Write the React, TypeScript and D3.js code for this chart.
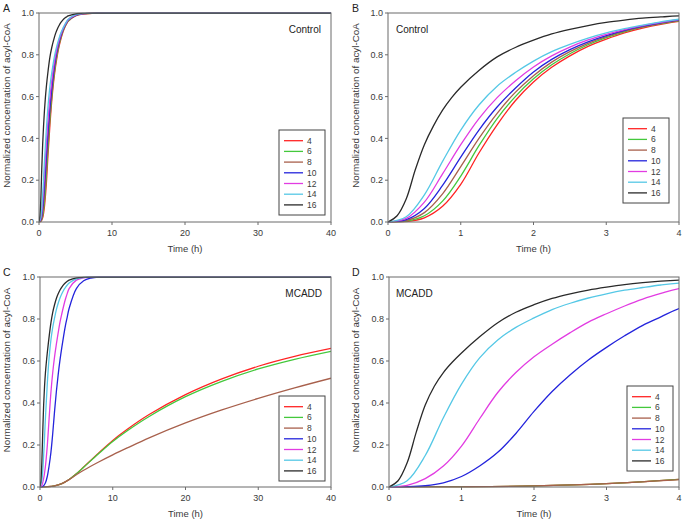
import React from "react";
import * as d3 from "d3";

// ---- data ----
const chainLengths = ["4", "6", "8", "10", "12", "14", "16"];
const seriesColors = ["#ff2424", "#44c83c", "#a8604c", "#2424dc", "#e23ce2", "#55c8e6", "#2a2a2a"];

// Control simulation, time in hours
const ctrlT = [0, 0.25, 0.5, 0.75, 1, 1.25, 1.5, 1.75, 2, 2.25, 2.5, 2.75, 3, 3.25, 3.5, 3.75, 4, 5, 6, 8, 10, 40];
const ctrl4 = [0, 0.002, 0.02, 0.075, 0.18, 0.33, 0.465, 0.58, 0.67, 0.74, 0.795, 0.84, 0.875, 0.905, 0.928, 0.946, 0.96, 0.986, 0.995, 1, 1, 1];
const ctrl6 = [0, 0.004, 0.03, 0.1, 0.22, 0.365, 0.495, 0.6, 0.685, 0.752, 0.805, 0.848, 0.882, 0.91, 0.932, 0.949, 0.962, 0.987, 0.996, 1, 1, 1];
const ctrl8 = [0, 0.007, 0.045, 0.135, 0.265, 0.4, 0.52, 0.62, 0.7, 0.765, 0.815, 0.855, 0.887, 0.913, 0.934, 0.951, 0.964, 0.988, 0.996, 1, 1, 1];
const ctrl10 = [0, 0.011, 0.065, 0.175, 0.31, 0.44, 0.55, 0.64, 0.718, 0.778, 0.825, 0.862, 0.892, 0.917, 0.937, 0.953, 0.966, 0.989, 0.997, 1, 1, 1];
const ctrl12 = [0, 0.017, 0.095, 0.23, 0.37, 0.495, 0.595, 0.675, 0.742, 0.795, 0.837, 0.871, 0.898, 0.921, 0.94, 0.955, 0.968, 0.99, 0.997, 1, 1, 1];
const ctrl14 = [0, 0.025, 0.13, 0.29, 0.44, 0.56, 0.65, 0.715, 0.77, 0.815, 0.85, 0.88, 0.905, 0.925, 0.942, 0.958, 0.97, 0.992, 0.998, 1, 1, 1];
const ctrl16T = [0, 0.125, 0.25, 0.375, 0.5, 0.625, 0.75, 0.875, 1, 1.25, 1.5, 1.75, 2, 2.25, 2.5, 2.75, 3, 3.25, 3.5, 3.75, 4, 5, 6, 8, 10, 40];
const ctrl16 = [0, 0.03, 0.11, 0.25, 0.37, 0.46, 0.535, 0.595, 0.645, 0.725, 0.79, 0.835, 0.87, 0.9, 0.922, 0.94, 0.955, 0.966, 0.975, 0.981, 0.986, 0.996, 0.999, 1, 1, 1];

// MCADD simulation, fast (long-chain) species
const mcFastT = [0, 0.25, 0.5, 0.75, 1, 1.25, 1.5, 1.75, 2, 2.25, 2.5, 2.75, 3, 3.25, 3.5, 3.75, 4, 5, 6, 7, 8, 10, 40];
const mc10 = [0, 0.001, 0.006, 0.02, 0.05, 0.1, 0.165, 0.255, 0.36, 0.455, 0.535, 0.605, 0.665, 0.72, 0.77, 0.81, 0.85, 0.945, 0.982, 0.995, 1, 1, 1];
const mc12 = [0, 0.008, 0.04, 0.1, 0.195, 0.325, 0.45, 0.545, 0.62, 0.68, 0.735, 0.785, 0.825, 0.862, 0.895, 0.922, 0.945, 0.985, 0.996, 1, 1, 1, 1];
const mc14 = [0, 0.03, 0.15, 0.33, 0.49, 0.615, 0.7, 0.76, 0.805, 0.845, 0.875, 0.9, 0.92, 0.937, 0.95, 0.962, 0.971, 0.991, 0.998, 1, 1, 1, 1];
const mc16T = [0, 0.125, 0.25, 0.375, 0.5, 0.625, 0.75, 0.875, 1, 1.25, 1.5, 1.75, 2, 2.25, 2.5, 2.75, 3, 3.25, 3.5, 3.75, 4, 5, 6, 8, 10, 40];
const mc16 = [0, 0.03, 0.115, 0.26, 0.39, 0.48, 0.545, 0.595, 0.638, 0.715, 0.782, 0.832, 0.868, 0.898, 0.92, 0.938, 0.952, 0.964, 0.973, 0.98, 0.985, 0.996, 0.999, 1, 1, 1];

// MCADD simulation, slow (short/medium-chain) species
const mcSlowT = [0, 1, 2, 3, 4, 5, 6, 8, 10, 12, 15, 20, 25, 30, 35, 40];
const mc4 = [0, 0.001, 0.005, 0.016, 0.036, 0.063, 0.095, 0.16, 0.222, 0.275, 0.345, 0.44, 0.515, 0.575, 0.622, 0.66];
const mc6 = [0, 0.001, 0.005, 0.016, 0.036, 0.063, 0.094, 0.157, 0.217, 0.268, 0.336, 0.43, 0.503, 0.562, 0.608, 0.646];
const mc8 = [0, 0.001, 0.005, 0.016, 0.035, 0.058, 0.08, 0.118, 0.153, 0.186, 0.234, 0.305, 0.367, 0.422, 0.472, 0.518];

const yTicks = [0, 0.2, 0.4, 0.6, 0.8, 1.0];
const xTicksLong = [0, 10, 20, 30, 40];
const xTicksShort = [0, 1, 2, 3, 4];

type Series = { t: number[]; v: number[] };

const controlSeries: Series[] = [
  { t: ctrlT, v: ctrl4 },
  { t: ctrlT, v: ctrl6 },
  { t: ctrlT, v: ctrl8 },
  { t: ctrlT, v: ctrl10 },
  { t: ctrlT, v: ctrl12 },
  { t: ctrlT, v: ctrl14 },
  { t: ctrl16T, v: ctrl16 },
];
const mcaddSeries: Series[] = [
  { t: mcSlowT, v: mc4 },
  { t: mcSlowT, v: mc6 },
  { t: mcSlowT, v: mc8 },
  { t: mcFastT, v: mc10 },
  { t: mcFastT, v: mc12 },
  { t: mcFastT, v: mc14 },
  { t: mc16T, v: mc16 },
];

const FONT = "Liberation Sans, Arial, sans-serif";
const AXIS = "#6b6b6b";
const TXT = "#3a3a3a";

type PanelProps = {
  id: string;
  letter: string;
  letterX: number;
  letterY: number;
  left: number;
  right: number;
  top: number;
  bottom: number;
  xMax: number;
  xTicks: number[];
  series: Series[];
  tag: string;
  tagX: number;
  tagAnchor: "start" | "end";
  legendX: number;
  legendY: number;
  yLabelX: number;
};

function Panel(p: PanelProps) {
  const x = d3.scaleLinear().domain([0, p.xMax]).range([p.left, p.right]);
  const y = d3.scaleLinear().domain([0, 1]).range([p.bottom, p.top]);
  const line = d3
    .line<[number, number]>()
    .x((d) => x(d[0]))
    .y((d) => y(d[1]))
    .curve(d3.curveCatmullRom.alpha(0.5));
  const clipId = "clip-" + p.id;
  const lw = 46;
  const lh = 85;
  return (
    <g>
      <defs>
        <clipPath id={clipId}>
          <rect x={p.left} y={p.top - 0.5} width={p.right - p.left} height={p.bottom - p.top + 1} />
        </clipPath>
      </defs>
      <text x={p.letterX} y={p.letterY} fontSize={10.5} fill="#222" fontFamily={FONT}>
        {p.letter}
      </text>
      <g clipPath={`url(#${clipId})`}>
        {p.series.map((s, i) => (
          <path
            key={i}
            d={line(s.t.map((t, k) => [t, s.v[k]] as [number, number])) || ""}
            fill="none"
            stroke={seriesColors[i]}
            strokeWidth={1.3}
          />
        ))}
      </g>
      <rect
        x={p.left}
        y={p.top}
        width={p.right - p.left}
        height={p.bottom - p.top}
        fill="none"
        stroke={AXIS}
        strokeWidth={1}
      />
      {yTicks.map((t) => (
        <g key={"y" + t}>
          <line x1={p.left - 3} x2={p.left} y1={y(t)} y2={y(t)} stroke={AXIS} />
          <text
            x={p.left - 5}
            y={y(t) + 3.2}
            fontSize={9}
            textAnchor="end"
            fill={TXT}
            fontFamily={FONT}
          >
            {t.toFixed(1)}
          </text>
        </g>
      ))}
      {p.xTicks.map((t) => (
        <g key={"x" + t}>
          <line x1={x(t)} x2={x(t)} y1={p.bottom} y2={p.bottom + 3} stroke={AXIS} />
          <text x={x(t)} y={p.bottom + 14} fontSize={9} textAnchor="middle" fill={TXT} fontFamily={FONT}>
            {t}
          </text>
        </g>
      ))}
      <text
        x={(p.left + p.right) / 2}
        y={p.bottom + 30}
        fontSize={9.5}
        textAnchor="middle"
        fill={TXT}
        fontFamily={FONT}
      >
        Time (h)
      </text>
      <text
        transform={`translate(${p.yLabelX},${(p.top + p.bottom) / 2 - 12}) rotate(-90)`}
        fontSize={9.8}
        textAnchor="middle"
        fill={TXT}
        fontFamily={FONT}
      >
        Normalized concentration of acyl-CoA
      </text>
      <text x={p.tagX} y={p.top + 20} fontSize={10} textAnchor={p.tagAnchor} fill="#222" fontFamily={FONT}>
        {p.tag}
      </text>
      <g transform={`translate(${p.legendX},${p.legendY})`}>
        <rect x={0} y={0} width={lw} height={lh} fill="white" stroke="#444" strokeWidth={1} />
        {chainLengths.map((c, i) => (
          <g key={c} transform={`translate(0,${10.7 + i * 10.7})`}>
            <line x1={5} x2={24} y1={0} y2={0} stroke={seriesColors[i]} strokeWidth={1.3} />
            <text x={28} y={3} fontSize={8.5} fill={TXT} fontFamily={FONT}>
              {c}
            </text>
          </g>
        ))}
      </g>
    </g>
  );
}

export default function App() {
  return (
    <svg
      width={685}
      height={520}
      style={{ position: "absolute", left: 0, top: 0, background: "white" }}
    >
      <rect width={685} height={520} fill="white" />
      <Panel
        id="a"
        letter="A"
        letterX={3}
        letterY={12}
        left={39}
        right={331}
        top={13}
        bottom={222}
        xMax={40}
        xTicks={xTicksLong}
        series={controlSeries}
        tag="Control"
        tagX={321}
        tagAnchor="end"
        legendX={279}
        legendY={130}
        yLabelX={10}
      />
      <Panel
        id="b"
        letter="B"
        letterX={352}
        letterY={12}
        left={388}
        right={679}
        top={13}
        bottom={222}
        xMax={4}
        xTicks={xTicksShort}
        series={controlSeries}
        tag="Control"
        tagX={396}
        tagAnchor="start"
        legendX={623}
        legendY={118}
        yLabelX={359}
      />
      <Panel
        id="c"
        letter="C"
        letterX={3}
        letterY={276}
        left={40}
        right={331}
        top={277}
        bottom={487}
        xMax={40}
        xTicks={xTicksLong}
        series={mcaddSeries}
        tag="MCADD"
        tagX={322}
        tagAnchor="end"
        legendX={279}
        legendY={396}
        yLabelX={10}
      />
      <Panel
        id="d"
        letter="D"
        letterX={352}
        letterY={276}
        left={389}
        right={679}
        top={277}
        bottom={487}
        xMax={4}
        xTicks={xTicksShort}
        series={mcaddSeries}
        tag="MCADD"
        tagX={396}
        tagAnchor="start"
        legendX={627}
        legendY={386}
        yLabelX={359}
      />
    </svg>
  );
}
